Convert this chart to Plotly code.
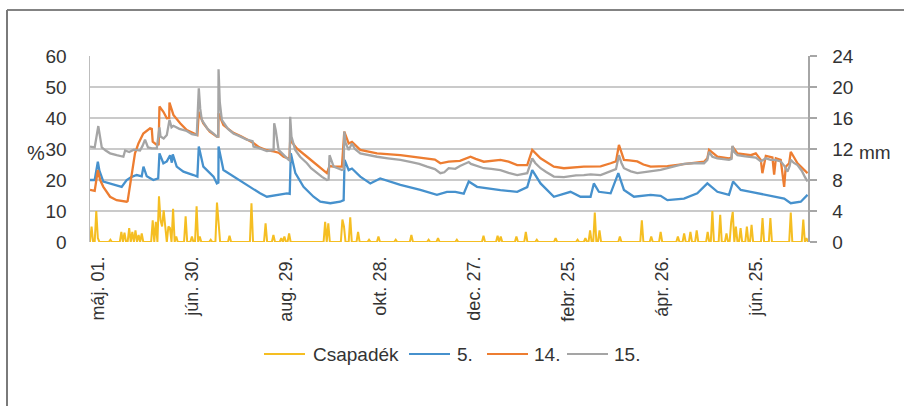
import pandas as pd
import plotly.graph_objects as go

# ---- data (day offsets from 2014-04-26) ----
start = pd.Timestamp("2014-04-26")
axis_days = 458

tick_dates = ["2014-05-01", "2014-06-30", "2014-08-29", "2014-10-28",
              "2014-12-27", "2015-02-25", "2015-04-26", "2015-06-25"]
tick_labels = ["máj. 01.", "jún. 30.", "aug. 29.", "okt. 28.",
               "dec. 27.", "febr. 25.", "ápr. 26.", "jún. 25."]

series_names = ["Csapadék", "5.", "14.", "15."]
series_colors = ["#F5BE22", "#4691CD", "#ED7D31", "#A5A5A5"]

# 15. (gray), %
s15_day = [0, 3, 5.3, 6.5, 7.5, 10, 12.8, 17, 21.3, 22.4, 25, 28, 31.9, 33.5, 35.1, 37, 39.4, 42.6,
           44.3, 45, 47, 49, 50.7, 52, 53.2, 57, 61.7, 65, 68.1, 69.4, 70.3, 71.3, 75, 78.8, 80.9,
           81.8, 82, 82.8, 84.1, 88, 91.5, 96, 100, 103.7, 104.3, 108, 112.8, 115, 117.1, 117.5,
           118.5, 120.3, 123.5, 126.7, 127.4, 127.7, 128.5, 130.9, 134, 138.4, 141, 144.7, 148,
           151.1, 152.2, 152.8, 154, 155.4, 158, 160.7, 161.8, 162.2, 163, 165, 167.1, 169, 172.4,
           178, 183.1, 190, 198, 205, 210, 215, 220, 223.5, 226, 228.8, 233, 236, 241.6, 243, 247,
           251.2, 256, 261.8, 267, 272.5, 278.9, 282.1, 284, 287.4, 291, 295.9, 302.3, 306.5, 310,
           315, 319.3, 325.7, 332.1, 335.5, 337.4, 339, 340.6, 345, 349.1, 353, 357.6, 364, 368.3,
           373, 378.9, 385, 391.7, 393.8, 394.9, 397, 400.2, 404, 407.6, 409.2, 409.8, 411, 413,
           418, 421.5, 424.7, 427.9, 431.1, 434.2, 437, 440.6, 443, 444.9, 446.3, 447, 449, 451.3,
           454, 456, 457.7]
s15_val = [30.8, 30.5, 37.4, 33, 30.5, 29.5, 28.6, 28, 27.5, 29.5, 29, 29.8, 29.5, 31, 33, 30.5, 30.2, 30.2,
           37, 34, 33.4, 34.5, 39.4, 37, 37.5, 36.5, 35.8, 34.8, 34.5, 49.6, 43, 39.4, 36.5, 35, 34,
           34, 55.7, 45, 39.4, 36.5, 35, 34, 33, 32.5, 30.8, 30.3, 29.3, 29.5, 29.7, 38.3,
           36, 29.7, 28, 26.5, 26.3, 40.4, 34, 29.7, 27.5, 25.4, 23.8, 22.2, 21,
           20, 20.2, 28, 26, 24.3, 23.8, 23.2, 23.5, 35.6, 32, 29.7, 31.8, 30, 28.6,
           28, 27.5, 27, 26.5, 25.8, 25.2, 24.3, 23.5, 22.2, 22.5, 23.8, 23.6, 24.5, 25.8, 25.2, 24.6,
           23.8, 23.6, 23.2, 22.3, 21.6, 22.2, 27, 25.5, 23.8, 22.6, 21.1, 20.9, 21.3, 21.5,
           21.6, 21.8, 21.6, 22.7, 23.5, 28, 25.5, 23.8, 22.8, 22.2, 22.5, 22.7, 23.3, 23.8,
           24.5, 25.2, 25.4, 25.4, 26.5, 29.1, 27.5, 27, 26.7, 26.5, 26.8, 31, 29, 28,
           27.6, 27.5, 27.2, 26, 27, 26.5, 26.5, 26, 24.5, 22.7, 24.5, 26.5, 25.5, 24.8,
           23, 21, 19.5]

# 14. (orange), %
s14_day = [0, 3, 5, 6.5, 8.5, 12.8, 17, 23.4, 24, 26.6, 28.7, 30.9, 34, 38.3, 39.4, 40, 42.6, 43.8,
           44.3, 46.8, 49, 50.5, 50.7, 53.2, 57.5, 61.7, 66, 68.5, 69.4, 72.2, 76.4, 80.9, 81.8, 82,
           85.1, 91.5, 96, 100, 104, 108, 112.8, 117.1, 120.3, 123.5, 127.2, 127.7, 131.9, 138.4,
           144.7, 151.1, 152.8, 155.4, 160.7, 162.2, 165, 167.1, 172.4, 183.1, 198, 210, 220, 223.5,
           226, 228.8, 236, 242.7, 246, 251.2, 261.8, 267, 272.5, 278.9, 282.1, 287.4, 295.9, 302.3,
           315, 325.7, 332.1, 335.5, 337.4, 340.6, 344, 349.1, 353, 357.6, 368.3, 378.9, 385, 391.7,
           393.8, 394.9, 400.2, 407.6, 409.2, 409.8, 413, 421.5, 424.7, 427.9, 428.9, 431.1, 435.3,
           436.4, 437.5, 440.6, 442.8, 443.8, 446, 447, 451.3, 454, 457.7]
s14_val = [16.8, 16.5, 23.2, 20, 17.8, 14.6, 13.5, 13, 13.2, 22.2, 28.6, 31.8, 35, 36.7, 36.5, 32.4, 31.3, 31.5,
           43.7, 42, 39.9, 40, 45, 41, 38.3, 36.1, 35, 34.5, 42, 38.3, 35.6, 34, 34, 41.5,
           37.7, 35.2, 34.2, 33, 32, 30.5, 29.6, 29.2, 28.8, 27.5, 26.8, 32.9, 30.2, 27.5,
           24.8, 22.2, 24.5, 24.3, 24.3, 35.6, 31.8, 32.3, 29.7, 28.6, 28, 27.3, 26.6, 25.4,
           25.6, 25.9, 26.2, 27.5, 26.8, 25.9, 26.5, 25.9, 24.8, 24.8, 29.7, 27, 24.3, 23.8,
           24.3, 24.4, 25.4, 26, 31.3, 26.5, 26.3, 26, 25, 24.3, 24.5, 25.1, 25.6, 25.9,
           27, 29.7, 27.5, 27, 27.2, 30.8, 28.6, 28, 28.6, 26.5, 22.2, 27.8, 27.3,
           21.7, 27, 26.5, 17.8, 24.3, 25.4, 29.1, 25.4, 24, 22.2]

# 5. (blue), %
s5_day = [0, 3, 5, 6, 8.5, 12, 14.9, 20.2, 23.4, 26.6, 29.8, 33, 34.1, 36.2, 40.4, 43.5, 44.3, 46.8,
          49, 51.1, 52.2, 52.8, 55.3, 59.6, 66, 68.5, 69.4, 72.3, 78.8, 80.9, 81.9, 82, 85.1, 91.5,
          97.9, 102.1, 108.5, 112.8, 119.2, 125.6, 127.4, 128.1, 131, 136.2, 142.6, 146.9, 153.3,
          159.6, 161.8, 162.4, 165, 167.1, 172.4, 178.8, 185.1, 191.5, 198, 210.7, 221.3, 227.7,
          233, 238.4, 241.6, 246.9, 261.8, 272.5, 278.9, 282.1, 287.4, 295.9, 302.3, 306.5, 312.9,
          319.3, 321.4, 324.6, 332.1, 337, 340.6, 347, 357.6, 364, 368.3, 378.9, 387.4, 393.8,
          400.2, 407.6, 410.2, 415.1, 421.5, 432.1, 442.8, 447, 453.4, 457.7]
s5_val = [20, 20, 25.9, 23, 19.5, 19, 18.4, 17.8, 20, 21, 21.6, 21.2, 24.3, 21.2, 20, 20.5, 28.6, 25.4,
          26, 28, 25.6, 28.3, 24.3, 22.7, 21.6, 21.1, 30.8, 24.3, 21.1, 18.9, 19.2, 30.8, 23.2, 21.1,
          18.9, 17.8, 15.7, 14.6, 15.2, 15.7, 15.5, 28.6, 22.2, 17.8, 14.6, 13, 12.5,
          13, 13.5, 26.5, 23.2, 23.7, 21.1, 18.9, 20.5, 19.5, 18.4, 16.8, 15.2, 16.2,
          16.2, 15.6, 19.5, 17.8, 16.7, 16.2, 17.7, 23.2, 18.9, 14.6, 15.7, 16.2, 14.6,
          14.6, 18.9, 16.2, 15.7, 22.2, 16.8, 14.6, 15.2, 14.9, 13.5, 14, 15.7, 18.9,
          16.2, 15.2, 19.5, 16.8, 16.2, 15.2, 14, 12.5, 13, 15.2]

# Csapadék (yellow), mm on rain days; all other days are 0 mm
rain_day = [1, 4, 5, 13, 20, 22, 25, 27, 29, 31, 33, 40, 42, 44, 45, 46, 47, 48, 50, 51, 53, 55,
            61, 65, 68, 70, 77, 81, 82, 89, 103, 112, 117, 122, 124, 127, 150, 152, 161, 162, 166,
            171, 178, 184, 195, 205, 216, 222, 234, 251, 260, 262, 272, 278, 285, 297, 311, 316,
            319, 322, 325, 338, 352, 358, 364, 375, 379, 383, 387, 394, 397, 402, 406, 409, 410,
            412, 415, 419, 422, 429, 434, 447, 455, 457]
rain_mm = [2.0, 4.0, 0.5, 0.3, 1.3, 1.2, 1.8, 1.3, 1.5, 0.9, 1.1, 2.8, 2.6, 5.9, 2.8, 2.0, 4.1, 2.0, 2.0, 1.8, 4.3, 0.7,
           3.3, 0.7, 4.6, 0.7, 0.3, 5.1, 2.6, 0.8, 5.0, 2.4, 0.9, 0.5, 0.7, 1.1, 2.6, 2.4, 2.9, 2.0, 3.2,
           1.3, 0.3, 0.7, 0.3, 0.9, 0.3, 0.5, 0.3, 0.8, 0.8, 0.7, 0.7, 1.3, 0.3, 0.5, 0.3, 0.5,
           1.5, 3.8, 1.5, 0.7, 2.8, 0.7, 1.3, 0.7, 1.1, 1.3, 1.5, 1.3, 4.0, 3.5, 1.1, 2.6, 3.9,
           2.0, 1.8, 2.0, 2.2, 3.1, 3.1, 3.8, 2.9, 0.5]

# ---- build ----
def to_dates(days):
    return [start + pd.Timedelta(days=float(d)) for d in days]

rain_lookup = dict(zip(rain_day, rain_mm))
all_days = list(range(axis_days + 1))
rain_series = [rain_lookup.get(d, 0.0) for d in all_days]

FONT = "Liberation Sans, Arial, sans-serif"
TXT = "#333333"

fig = go.Figure()
fig.add_trace(go.Scatter(x=to_dates(all_days), y=rain_series, name=series_names[0], yaxis="y2",
                         mode="lines", line=dict(color=series_colors[0], width=2)))
fig.add_trace(go.Scatter(x=to_dates(s5_day), y=s5_val, name=series_names[1], mode="lines",
                         line=dict(color=series_colors[1], width=2.3)))
fig.add_trace(go.Scatter(x=to_dates(s14_day), y=s14_val, name=series_names[2], mode="lines",
                         line=dict(color=series_colors[2], width=2.3)))
fig.add_trace(go.Scatter(x=to_dates(s15_day), y=s15_val, name=series_names[3], mode="lines",
                         line=dict(color=series_colors[3], width=2.3)))

W, H = 904, 406
L, R, T, B = 90, 808, 56, 242
px = lambda x: (x - L) / (R - L)
py = lambda y: (B - y) / (B - T)

# manual legend (line swatch start, text start) in page pixels
leg_y = 354
leg_items = [(264, 311), (409, 455), (487, 532), (567, 612)]
leg_len = 41

shapes = [
    dict(type="line", xref="paper", yref="paper", x0=px(7), x1=px(904), y0=py(10), y1=py(10),
         line=dict(color="#5A5A5A", width=1.5)),
    dict(type="line", xref="paper", yref="paper", x0=px(7), x1=px(7), y0=py(10), y1=py(406),
         line=dict(color="#7A7A7A", width=2)),
]
annotations = [
    dict(text="%", xref="paper", yref="paper", x=px(36), y=py(153), showarrow=False,
         xanchor="center", yanchor="middle", font=dict(size=20, color=TXT)),
    dict(text="mm", xref="paper", yref="paper", x=px(857), y=py(152), showarrow=False,
         xanchor="left", yanchor="middle", font=dict(size=19, color=TXT)),
]
for (lx, tx), name, col in zip(leg_items, series_names, series_colors):
    shapes.append(dict(type="line", xref="paper", yref="paper", x0=px(lx), x1=px(lx + leg_len),
                       y0=py(leg_y), y1=py(leg_y), line=dict(color=col, width=2.2)))
    annotations.append(dict(text=name, xref="paper", yref="paper", x=px(tx), y=py(leg_y),
                            showarrow=False, xanchor="left", yanchor="middle",
                            font=dict(size=19, color=TXT)))

fig.update_layout(
    width=W, height=H,
    margin=dict(l=L, r=W - R, t=T, b=H - B),
    paper_bgcolor="white", plot_bgcolor="white",
    font=dict(family=FONT, size=19, color=TXT),
    showlegend=False,
    hovermode=False,
    xaxis=dict(type="date", range=[start, start + pd.Timedelta(days=axis_days)],
               tickmode="array", tickvals=tick_dates, ticktext=tick_labels, tickangle=-90,
               showgrid=False, zeroline=False, showline=False, ticks="",
               ticklabelstandoff=10, tickfont=dict(size=18, color=TXT)),
    yaxis=dict(range=[0, 60], tickmode="linear", tick0=0, dtick=10,
               showgrid=True, gridcolor="#CACACA", gridwidth=1.5, zeroline=False,
               showline=True, linecolor="#BDBDBD", linewidth=1.5, ticks="",
               ticklabelstandoff=18, tickfont=dict(size=19, color=TXT)),
    yaxis2=dict(range=[0, 24], tickmode="linear", tick0=0, dtick=4, overlaying="y", side="right",
                showgrid=False, zeroline=False, showline=True, linecolor="#A6A6A6", linewidth=1.5,
                ticks="outside", ticklen=7, tickcolor="#A6A6A6", tickwidth=1.5,
                ticklabelstandoff=12, tickfont=dict(size=19, color=TXT)),
    annotations=annotations,
    shapes=shapes,
)

fig.write_html("out.html", config={"displayModeBar": False, "staticPlot": True},
               post_script="document.body.style.margin='0';")
